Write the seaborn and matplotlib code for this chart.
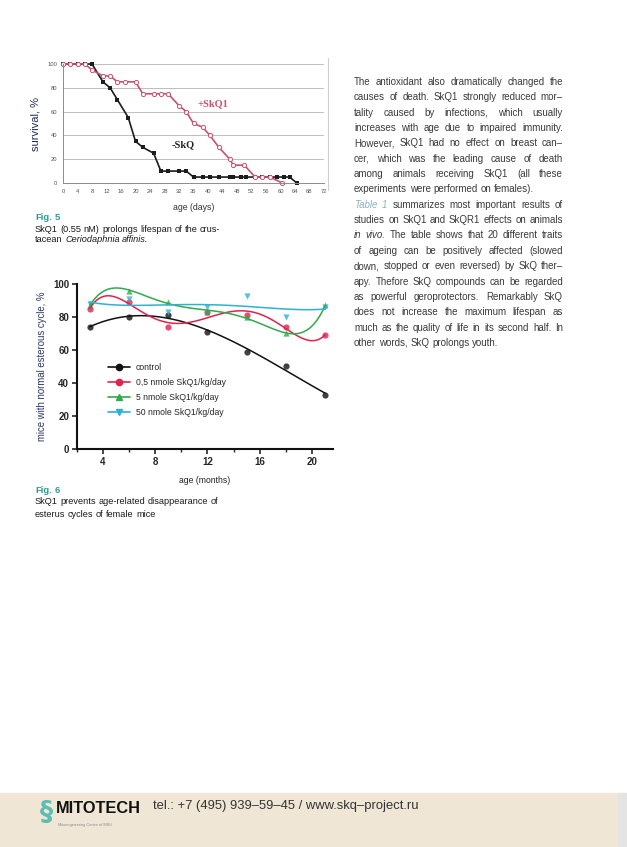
import numpy as np
import seaborn as sns
import matplotlib.pyplot as plt
from matplotlib.lines import Line2D
from matplotlib.patches import Rectangle
from matplotlib.ticker import MultipleLocator

sns.set_style('white')
plt.rcParams['font.family'] = ['Liberation Sans', 'DejaVu Sans']

# --- Fig. 5 data: survival of Ceriodaphnia affinis
days_ctrl = [0, 2, 4, 6, 8, 11, 13, 15, 18, 20, 22, 25, 27, 29, 32, 34, 36, 38.5, 40.5,
             43, 46, 47, 49, 50.5, 53, 55, 57, 59, 61, 62.5, 64.5]
surv_ctrl = [100, 100, 100, 100, 100, 85, 80, 70, 55, 35, 30, 25, 10, 10, 10, 10, 5, 5, 5,
             5, 5, 5, 5, 5, 5, 5, 5, 5, 5, 5, 0]
days_skq = [0, 2, 4, 6, 8, 11, 13, 15, 17, 20, 22, 25, 27, 29, 32, 34, 36, 38.5, 40.5,
            43, 46, 47, 50, 53, 55, 57, 60.5]
surv_skq = [100, 100, 100, 100, 95, 90, 90, 85, 85, 85, 75, 75, 75, 75, 65, 60, 50, 47, 40,
            30, 20, 15, 15, 5, 5, 5, 0]

# --- Fig. 6 data: mice with normal esterous cycle
months = np.array([3, 6, 9, 12, 15, 18, 21])
control = [74, 80, 81, 71, 59, 50, 33]
skq_05 = [85, 89, 74, 83, 81, 74, 69]
skq_5 = [87, 96, 89, 83, 80, 70, 87]
skq_50 = [88, 91, 83, 86, 93, 80, 86]
labels6 = ['control', '0,5 nmole SkQ1/kg/day', '5 nmole SkQ1/kg/day', '50 nmole SkQ1/kg/day']

text_lines = [
    "The antioxidant also dramatically changed the",
    "causes of death. SkQ1 strongly reduced mor\u2013",
    "tality caused by infections, which usually",
    "increases with age due to impaired immunity.",
    "However, SkQ1 had no effect on breast can\u2013",
    "cer, which was the leading cause of death",
    "among animals receiving SkQ1 (all these",
    "experiments were performed on females).",
    "_Table _1 summarizes most important results of",
    "studies on SkQ1 and SkQR1 effects on animals",
    "*in *vivo. The table shows that 20 different traits",
    "of ageing can be positively affected (slowed",
    "down, stopped or even reversed) by SkQ ther\u2013",
    "apy. Thefore SkQ compounds can be regarded",
    "as powerful geroprotectors. Remarkably SkQ",
    "does not increase the maximum lifespan as",
    "much as the quality of life in its second half. In",
    "other words, SkQ prolongs youth.",
]
par_ends = {7, 17}

W, H = 627, 847
fig = plt.figure(figsize=(6.27, 8.47), dpi=100)


def fx(px):
    return px / W


def fy(py):
    return 1 - py / H


renderer = fig.canvas.get_renderer()


def text_width(s, **kw):
    t = fig.text(0, 0, s, **kw)
    w = t.get_window_extent(renderer).width
    t.remove()
    return w


def put_line(line, y, x0, x1=None, size=7.0, color='#3a3a3a', weight='normal'):
    arts = []
    for word in line.split(' '):
        kw = dict(fontsize=size, color=color, va='center', ha='left', fontweight=weight)
        if word.startswith('_'):
            word = word[1:]
            kw.update(style='italic', color='#8fb0bf')
        elif word.startswith('*'):
            word = word[1:]
            kw.update(style='italic')
        arts.append(fig.text(fx(x0), fy(y), word, **kw))
    widths = [a.get_window_extent(renderer).width for a in arts]
    space = text_width('a a', fontsize=size) - text_width('aa', fontsize=size)
    if x1 is not None and len(arts) > 1:
        gap = (x1 - x0 - sum(widths)) / (len(arts) - 1)
    else:
        gap = space
    x = x0
    for a, w in zip(arts, widths):
        a.set_x(fx(x))
        x += w + gap


# ---------------- Fig. 5 ----------------
ax1 = fig.add_axes([fx(63), fy(183), fx(324) - fx(63), fy(64) - fy(183)])
sns.lineplot(x=days_ctrl, y=surv_ctrl, ax=ax1, color='#1c1c1c', marker='s', markersize=2.8,
             markeredgewidth=0, lw=1.2)
sns.lineplot(x=days_skq, y=surv_skq, ax=ax1, color='#c9506b', marker='o', markersize=3.0,
             markerfacecolor='white', markeredgecolor='#c9506b', markeredgewidth=0.7, lw=1.2)
for ln in ax1.lines:
    ln.set_clip_on(False)
ax1.set_xlim(0, 72)
ax1.set_ylim(0, 100)
ax1.set_xticks(range(0, 73, 4))
ax1.set_yticks(range(0, 101, 20))
ax1.yaxis.grid(True, color='#bdbdbd', lw=0.7)
ax1.set_axisbelow(True)
for s in ['top', 'right']:
    ax1.spines[s].set_visible(False)
for s in ['left', 'bottom']:
    ax1.spines[s].set_color('#8c8c8c')
    ax1.spines[s].set_linewidth(0.7)
ax1.tick_params(labelsize=4.2, labelcolor='#555555', length=2, width=0.5, color='#8c8c8c', pad=2)
ax1.set_xlabel('age (days)', fontsize=6.3, color='#333333', labelpad=7)
ax1.set_ylabel('survival, %', fontsize=8, color='#1f2a5a', labelpad=5)
ax1.text(37, 67, '+SkQ1', fontsize=7.5, color='#c9506b', fontweight='bold',
         family='Liberation Serif', va='center')
ax1.text(30, 32, '-SkQ', fontsize=7.5, color='#222222', fontweight='bold',
         family='Liberation Serif', va='center')
fig.add_artist(Line2D([fx(328), fx(328)], [fy(58), fy(190)], color='#cfcfcf', lw=0.8))

put_line("Fig. 5", 218, 35, size=6.8, color='#2b9c9c', weight='bold')
put_line("SkQ1 (0.55 nM) prolongs lifespan of the crus-", 229, 35, size=6.6, color='#1a1a1a')
put_line("tacean *Ceriodaphnia *affinis.", 240, 35, size=6.6, color='#1a1a1a')

# ---------------- Fig. 6 ----------------
ax2 = fig.add_axes([fx(76.7), fy(449), fx(333) - fx(76.7), fy(284) - fy(449)])
series6 = [
    (control, '#111111', 'o', 3),
    (skq_05, '#e0224c', 'o', 5),
    (skq_5, '#2faa4c', '^', 5),
    (skq_50, '#2eb2d2', 'v', 4),
]
for vals, col, mk, order in series6:
    sns.regplot(x=months, y=np.array(vals), ax=ax2, order=order, ci=None, color=col, marker=mk,
                scatter_kws={'s': 20, 'clip_on': False, 'linewidths': 0},
                line_kws={'lw': 1.1, 'clip_on': False})
ax2.set_xlim(2, 21.6)
ax2.set_ylim(0, 100)
ax2.set_xticks([4, 8, 12, 16, 20])
ax2.xaxis.set_minor_locator(MultipleLocator(2))
ax2.set_yticks(range(0, 101, 20))
for s in ['top', 'right']:
    ax2.spines[s].set_visible(False)
for s in ['left', 'bottom']:
    ax2.spines[s].set_color('#111111')
    ax2.spines[s].set_linewidth(1.5)
ax2.tick_params(axis='both', which='major', direction='out', length=3.5, width=1.2,
                labelsize=7, pad=2, bottom=True, left=True)
ax2.tick_params(axis='x', which='minor', direction='out', length=2, width=1, bottom=True)
for t in ax2.get_xticklabels() + ax2.get_yticklabels():
    t.set_fontweight('bold')
ax2.set_xlabel('age (months)', fontsize=6.2, color='#222222', labelpad=7)
ax2.set_ylabel('mice with normal esterous cycle, %', fontsize=6.9, color='#2b3566', labelpad=4)

handles = [Line2D([0], [0], color=c, marker=m, markersize=4.5, lw=1.2)
           for _, c, m, _ in series6]
ax2.legend(handles, labels6, loc='upper left', bbox_to_anchor=(fx(108), fy(363)),
           bbox_transform=fig.transFigure, frameon=False, fontsize=6.2, handlelength=2.5,
           labelspacing=0.68, handletextpad=0.7, borderaxespad=0, borderpad=0)

put_line("Fig. 6", 490, 35, size=6.8, color='#2b9c9c', weight='bold')
put_line("SkQ1 prevents age-related disappearance of", 502, 35, size=6.6, color='#1a1a1a')
put_line("esterus cycles of female mice", 514, 35, size=6.6, color='#1a1a1a')

# ---------------- right column text ----------------
for i, line in enumerate(text_lines):
    y = 82 + i * 15.35
    put_line(line, y, 354, None if i in par_ends else 563, size=7.0)

# ---------------- footer ----------------
fig.add_artist(Rectangle((0, 0), fx(618), fy(793), transform=fig.transFigure,
                         color='#efe6d6', zorder=0))
fig.add_artist(Rectangle((fx(618), 0), fx(9), fy(793), transform=fig.transFigure,
                         color='#e4e4e4', zorder=0))
fig.text(fx(40), fy(813), '\u00a7', fontsize=19, color='#5cbdb3', fontweight='bold',
         va='center', ha='left', family='DejaVu Sans')
fig.text(fx(56), fy(808), 'MITOTECH', fontsize=11.8, color='#111111', fontweight='bold',
         va='center', ha='left')
fig.text(fx(58), fy(825), 'Mitoengineering Centre of MSU', fontsize=2.8, color='#8a8a8a',
         va='center', ha='left')
fig.text(fx(153), fy(806), 'tel.: +7 (495) 939\u201359\u201345 / www.skq\u2013project.ru',
         fontsize=9.4, color='#333333', va='center', ha='left')

fig.savefig('out.png', dpi=100)
